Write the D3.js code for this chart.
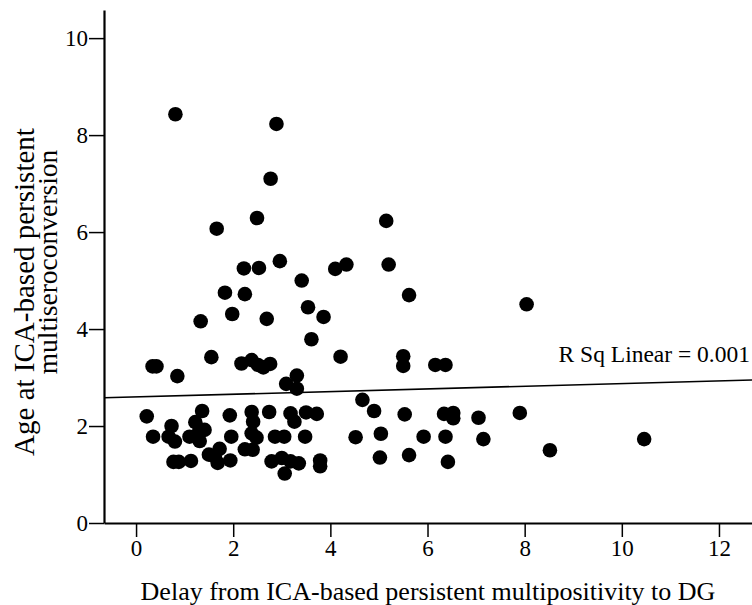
<!DOCTYPE html>
<html><head><meta charset="utf-8">
<script src="https://cdn.jsdelivr.net/npm/d3@7"></script>
<style>
html,body{margin:0;padding:0;background:#fff;}
svg{display:block;}
text{font-family:"Liberation Serif","Times New Roman",serif !important;fill:#000;}
</style></head>
<body>
<svg id="chart" width="752" height="605"></svg>
<script>
// Data: [delay (x), age (y)]
const delayValues = [
  0.81,2.89,2.77,2.49,1.66,2.22,2.53,2.96,3.41,4.10,4.33,
  5.15,5.20,5.62,8.04,
  1.83,2.24,3.54,3.86,1.98,1.33,2.69,3.61,4.21,1.55,
  0.34,0.42,0.85,2.17,2.38,2.51,2.62,2.76,3.31,3.09,3.31,
  5.50,5.50,6.16,6.37,
  0.22,1.36,1.93,2.38,2.41,2.74,3.18,3.26,3.50,3.72,
  0.73,1.22,1.41,
  0.35,0.67,0.80,1.10,1.31,1.28,1.96,2.38,2.48,2.86,3.05,3.48,
  2.24,2.40,1.72,1.50,1.62,
  0.77,0.88,1.13,1.68,1.94,
  2.79,3.00,3.18,3.35,3.06,3.79,3.79,
  4.66,4.90,5.53,6.34,6.53,6.53,7.05,7.90,
  4.52,5.04,5.92,6.37,7.15,
  5.02,5.62,6.42,8.52,10.46
];
const ageValues = [
  8.43,8.23,7.10,6.29,6.07,5.25,5.26,5.40,5.00,5.24,5.33,
  6.23,5.33,4.70,4.51,
  4.75,4.72,4.45,4.25,4.31,4.16,4.21,3.79,3.43,3.42,
  3.23,3.23,3.03,3.29,3.36,3.26,3.21,3.28,3.04,2.87,2.77,
  3.44,3.24,3.26,3.26,
  2.20,2.31,2.22,2.29,2.09,2.29,2.26,2.09,2.28,2.25,
  2.00,2.08,1.92,
  1.78,1.78,1.68,1.78,1.69,1.85,1.78,1.85,1.76,1.78,1.78,1.78,
  1.52,1.51,1.53,1.41,1.37,
  1.26,1.26,1.28,1.24,1.29,
  1.27,1.34,1.27,1.23,1.02,1.29,1.17,
  2.54,2.31,2.24,2.25,2.27,2.16,2.17,2.27,
  1.77,1.84,1.78,1.78,1.73,
  1.35,1.40,1.26,1.50,1.73
];
const xTicks = [0,2,4,6,8,10,12];
const yTicks = [0,2,4,6,8,10];
const xDomain = [-0.66, 12.68];
const yDomain = [0, 10.58];
const fitIntercept = 2.60;
const fitSlope = 0.0276;
const fitLabel = "R Sq Linear = 0.001";
const xTitle = "Delay from ICA-based persistent multipositivity to DG";
const yTitleLines = ["Age at ICA-based persistent", "multiseroconversion"];

const svg = d3.select("#chart");
const x = d3.scaleLinear().domain(xDomain).range([104, 752]);
const y = d3.scaleLinear().domain(yDomain).range([523, 10]);

const points = delayValues.map((d, i) => ({x: d, y: ageValues[i]}));

// regression line
svg.append("line")
  .attr("x1", x(xDomain[0])).attr("y1", y(fitIntercept + fitSlope * xDomain[0]))
  .attr("x2", x(xDomain[1])).attr("y2", y(fitIntercept + fitSlope * xDomain[1]))
  .attr("stroke", "#000").attr("stroke-width", 1.6);

svg.append("text")
  .attr("x", 750).attr("y", 362)
  .attr("text-anchor", "end")
  .attr("font-size", 23.5)
  .text(fitLabel);

// points
svg.append("g").selectAll("circle").data(points).join("circle")
  .attr("cx", d => x(d.x)).attr("cy", d => y(d.y))
  .attr("r", 7.3).attr("fill", "#000");

// axes
const gx = svg.append("g").attr("transform", "translate(0,523)")
  .call(d3.axisBottom(x).tickValues(xTicks).tickFormat(d3.format("d"))
    .tickSize(14).tickSizeOuter(0).tickPadding(3));
const gy = svg.append("g").attr("transform", "translate(104,0)")
  .call(d3.axisLeft(y).tickValues(yTicks).tickFormat(d3.format("d"))
    .tickSize(15).tickSizeOuter(0).tickPadding(1));
[gx, gy].forEach(g => {
  g.attr("font-family", null).attr("font-size", null);
  g.select(".domain").attr("stroke", "#000").attr("stroke-width", 2.2);
  g.selectAll(".tick line").attr("stroke", "#000").attr("stroke-width", 1.5);
  g.selectAll(".tick text").attr("font-size", 23).attr("fill", "#000");
});

// titles
svg.append("text")
  .attr("x", 428).attr("y", 600)
  .attr("text-anchor", "middle").attr("font-size", 26)
  .text(xTitle);

const yTitleSpec = [{c: 292, b: 34, fs: 29}, {c: 262, b: 57, fs: 27.5}];
yTitleLines.forEach((t, i) => {
  svg.append("text")
    .attr("transform", `translate(${yTitleSpec[i].b},${yTitleSpec[i].c}) rotate(-90)`)
    .attr("text-anchor", "middle").attr("font-size", yTitleSpec[i].fs)
    .text(t);
});
</script>
</body></html>
